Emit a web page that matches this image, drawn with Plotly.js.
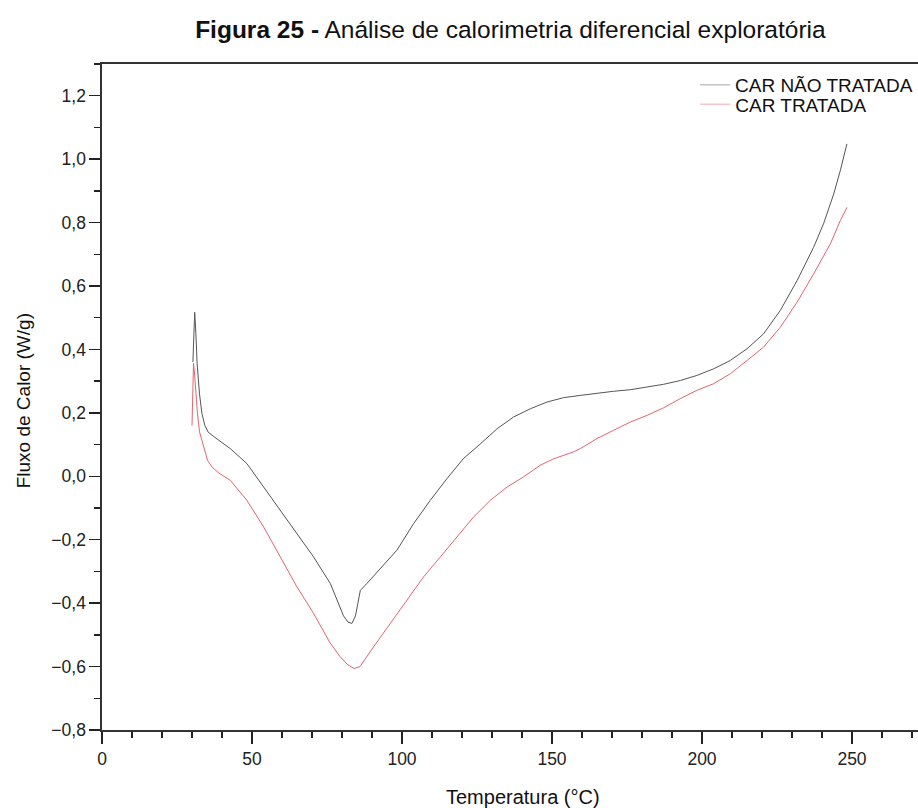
<!DOCTYPE html>
<html>
<head>
<meta charset="utf-8">
<script src="https://cdn.plot.ly/plotly-3.0.1.min.js"></script>
<style>html,body{margin:0;padding:0;background:#fff;}#chart{width:918px;height:808px;}</style>
</head>
<body>
<div id="chart"></div>
<script>
// CAR NÃO TRATADA
const tempNaoTratada = [30.3, 30.6, 30.9, 31.3, 31.7, 32.5, 33.3, 34.3, 35.4, 38, 42.8, 48.3, 53.9, 59.4, 65, 70.5, 76.1, 78.3, 80.5, 82, 83.3, 84.5, 86.1, 88.3, 90.5, 92.8, 98.3, 103.9, 109.4, 115, 120.5, 126.1, 131.7, 137.2, 142.8, 148.3, 153.9, 159.4, 165, 170.5, 176.1, 181.7, 187.2, 192.8, 198.3, 203.9, 209.4, 215, 220.5, 226.1, 231.7, 237.2, 240.5, 243.9, 246.1, 248.3];
const fluxoNaoTratada = [0.36, 0.47, 0.517, 0.45, 0.356, 0.26, 0.198, 0.16, 0.139, 0.12, 0.087, 0.04, -0.034, -0.107, -0.18, -0.254, -0.338, -0.39, -0.44, -0.46, -0.464, -0.44, -0.36, -0.338, -0.315, -0.291, -0.233, -0.149, -0.076, -0.007, 0.056, 0.102, 0.15, 0.187, 0.213, 0.234, 0.248, 0.255, 0.262, 0.268, 0.273, 0.281, 0.29, 0.302, 0.318, 0.339, 0.365, 0.402, 0.449, 0.523, 0.617, 0.722, 0.796, 0.89, 0.964, 1.048];
// CAR TRATADA
const tempTratada = [30.0, 30.2, 30.5, 30.8, 31.2, 31.8, 32.5, 33.9, 35.2, 36.7, 39, 42.8, 48.3, 53.9, 59.4, 65, 70.5, 76, 79.4, 82, 84, 86, 90.5, 96.1, 101.7, 107.2, 112.8, 118.3, 123.9, 129.4, 135, 140.5, 146.1, 150.5, 153.9, 157.2, 159.4, 165, 170.5, 176.1, 181.7, 187.2, 192.8, 198.3, 203.9, 209.4, 215, 220.5, 226.1, 231.7, 237.2, 242.8, 246.1, 248.3];
const fluxoTratada = [0.16, 0.26, 0.356, 0.33, 0.27, 0.2, 0.14, 0.092, 0.05, 0.029, 0.01, -0.013, -0.076, -0.16, -0.254, -0.349, -0.432, -0.525, -0.569, -0.595, -0.606, -0.6, -0.538, -0.464, -0.39, -0.317, -0.254, -0.191, -0.128, -0.076, -0.034, -0.002, 0.035, 0.055, 0.066, 0.077, 0.087, 0.119, 0.145, 0.171, 0.192, 0.216, 0.245, 0.271, 0.292, 0.323, 0.365, 0.407, 0.47, 0.549, 0.638, 0.733, 0.806, 0.848];

const seriesNames = ["CAR NÃO TRATADA", "CAR TRATADA"];
const xTicks = [0, 50, 100, 150, 200, 250];
const yTicks = [-0.8, -0.6, -0.4, -0.2, 0.0, 0.2, 0.4, 0.6, 0.8, 1.0, 1.2];
const xTitle = "Temperatura (°C)";
const yTitle = "Fluxo de Calor (W/g)";

const font = "Liberation Sans, Arial, sans-serif";

const traces = [
  {x: tempNaoTratada, y: fluxoNaoTratada, mode: "lines", name: seriesNames[0], showlegend: false,
   line: {color: "#555555", width: 1}},
  {x: tempTratada, y: fluxoTratada, mode: "lines", name: seriesNames[1], showlegend: false,
   line: {color: "#e4646f", width: 1}},
  {x: [null], y: [null], mode: "lines", name: seriesNames[0], legend: "legend", line: {color: "#a8a8a8", width: 1}},
  {x: [null], y: [null], mode: "lines", name: seriesNames[1], legend: "legend2", line: {color: "#f0a8b4", width: 1}}
];

const legendStyle = (y) => ({
  x: 0.727, xanchor: "left", y: y, yanchor: "top",
  bgcolor: "rgba(0,0,0,0)", borderwidth: 0,
  font: {family: font, size: 19, color: "#111"},
  itemwidth: 30
});

const layout = {
  width: 918, height: 808,
  margin: {l: 102, r: 0, t: 64, b: 78},
  paper_bgcolor: "#fff", plot_bgcolor: "#fff",
  separators: ",.",
  font: {family: font, color: "#222", size: 17},
  title: {
    text: "<b>Figura 25 -</b> Análise de calorimetria diferencial exploratória",
    font: {family: font, size: 24.5, color: "#111"},
    x: 0.556, xref: "container", xanchor: "center",
    y: 0.963, yref: "container", yanchor: "middle"
  },
  xaxis: {
    range: [0, 272], tickvals: xTicks, ticks: "outside", ticklen: 12, tickwidth: 1.3, tickcolor: "#222",
    minor: {dtick: 10, ticks: "outside", ticklen: 6, tickwidth: 1.3, tickcolor: "#222"},
    showline: true, linecolor: "#333", linewidth: 1.6, mirror: true,
    showgrid: false, zeroline: false,
    tickfont: {family: font, size: 17.5, color: "#222"}
  },
  yaxis: {
    range: [-0.8, 1.3], tickvals: yTicks, tickformat: ".1f", ticksuffix: "\u00a0\u00a0", ticks: "outside", ticklen: 11, tickwidth: 1.3, tickcolor: "#222",
    minor: {dtick: 0.1, tick0: -0.8, ticks: "outside", ticklen: 6, tickwidth: 1.3, tickcolor: "#222"},
    showline: true, linecolor: "#333", linewidth: 1.6,
    showgrid: false, zeroline: false,
    tickfont: {family: font, size: 17.5, color: "#222"}
  },
  annotations: [
    {text: xTitle, xref: "paper", yref: "paper", x: 0.516, y: -0.1006, xanchor: "center", yanchor: "middle",
     showarrow: false, font: {family: font, size: 20, color: "#111"}},
    {text: yTitle, xref: "paper", yref: "paper", x: -0.0952, y: 0.494, xanchor: "center", yanchor: "middle",
     textangle: -90, showarrow: false, font: {family: font, size: 19, color: "#111"}}
  ],
  legend: legendStyle(0.997),
  legend2: legendStyle(0.968)
};

Plotly.newPlot("chart", traces, layout, {displayModeBar: false, staticPlot: true});
</script>
</body>
</html>
